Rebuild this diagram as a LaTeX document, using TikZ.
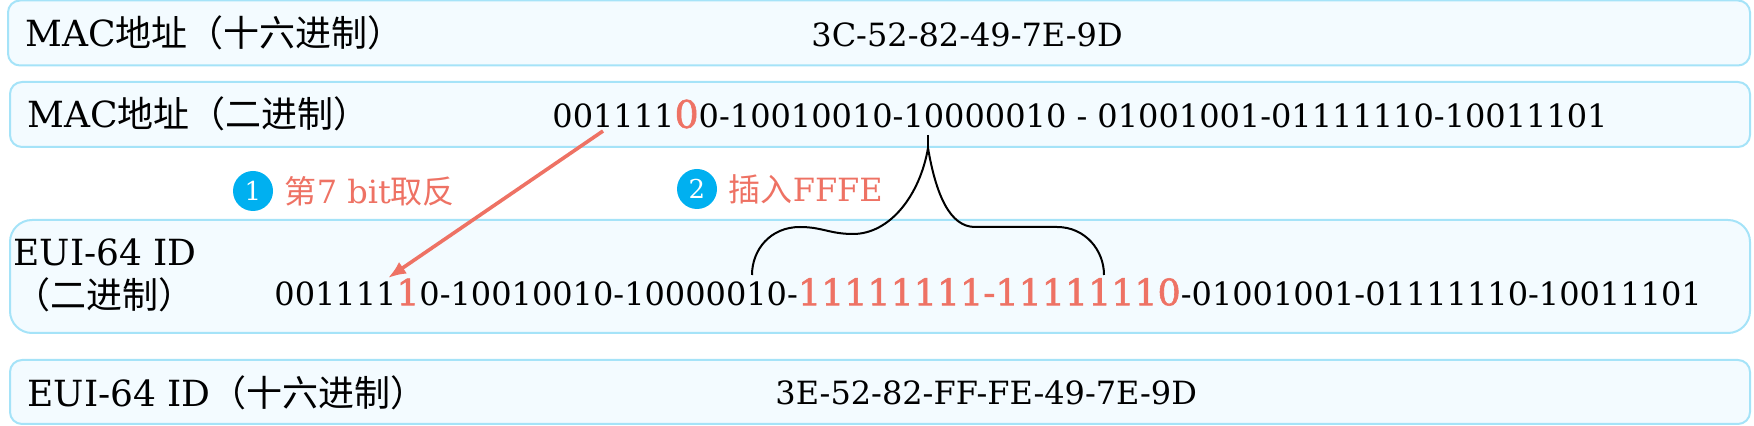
\documentclass[tikz,border=0pt]{standalone}
\usepackage{fontspec}
\usepackage{xcolor}
\usepackage{tikz}
\usetikzlibrary{arrows.meta,positioning}
\setmainfont{DejaVu Serif}
\newfontfamily\cjk{Noto Sans CJK SC}
\newfontfamily\thick[FakeBold=1.5]{DejaVu Serif}
\definecolor{EUIblue}{RGB}{165,227,248}
\definecolor{EUIfill}{RGB}{243,251,255}
\definecolor{EUIred}{RGB}{238,114,100}
\definecolor{EUIbadge}{RGB}{0,176,240}
\tikzstyle{rowbox} = [rectangle, rounded corners=6pt, draw=EUIblue, fill=EUIfill,
                      line width=1pt, inner sep=0pt]
\tikzstyle{Ltxt}   = [anchor=west, inner sep=0pt, font=\fontsize{18}{20}\selectfont]
\tikzstyle{Vtxt}   = [anchor=west, inner sep=0pt, font=\fontsize{16}{20}\selectfont]
\tikzstyle{badge}  = [circle, fill=EUIbadge, text=white, inner sep=0pt,
                      minimum size=20pt, font=\fontsize{13}{15}\selectfont]
\tikzstyle{note}   = [inner sep=0pt, text=EUIred, font=\fontsize{16}{18}\selectfont]
\newcommand{\hl}[2]{\textcolor{EUIred}{\fontsize{#1}{20}\selectfont #2}}

\begin{document}
\begin{tikzpicture}[x=0.5pt, y=-0.5pt, node distance=0.6cm and 5.5pt, >=latex]
  \useasboundingbox (0,0) rectangle (1754,426);

  \node[rowbox, minimum width=871pt, minimum height=32.5pt] (hexbox) at (879,33) {};
  \node[rowbox, minimum width=870pt, minimum height=32.5pt] (binbox) at (880,114.5) {};
  \node[rowbox, rounded corners=11pt, minimum width=870pt, minimum height=56.5pt] (euibox) at (880,276.5) {};
  \node[rowbox, minimum width=870pt, minimum height=32pt] (euihexbox) at (880,392) {};

  \node[Ltxt] (hexlab) at (25,33) {MAC{\cjk 地址（十六进制）}};
  \node[Ltxt] (binlab) at (27,114) {MAC{\cjk 地址（二进制）}};
  \node[Ltxt] (euilab) at (13,252) {EUI-64 ID};
  \node[Ltxt] (euilabb) at (14,295) {\cjk （二进制）};
  \node[Ltxt] (euihexlab) at (27,393) {EUI-64 ID{\cjk （十六进制）}};

  \node[Vtxt] (hexval) at (811,35) {3C-52-82-49-7E-9D};
  \node[Vtxt] (binval) at (552,114) {001111\hl{19}{\thick 0}0-10010010-10000010 - 01001001-01111110-10011101};
  \node[Vtxt] (euival) at (274,292) {001111\hl{18}{\thick 1}0-10010010-10000010-\hl{18.2}{\thick 11111111-11111110}-01001001-01111110-10011101};
  \node[Vtxt] (euihexval) at (775,393) {3E-52-82-FF-FE-49-7E-9D};

  \node[badge] (one) at (253,191) {1};
  \node[note, right=of one] (flip) {{\cjk 第}7 bit{\cjk 取反}};
  \node[badge] (two) at (697,189) {2};
  \node[note, right=of two] (ins) {{\cjk 插入}FFFE};

  \coordinate (flipfrom) at (603,131);
  \coordinate (flipto) at (388,278);
  \coordinate (top) at (928,135);
  \coordinate (fork) at (928,148);
  \coordinate (insl) at (752,275);
  \coordinate (insr) at (1104,275);

  \draw[->, EUIred, line width=1.8pt, >={Latex[length=9pt,width=7pt]}] (flipfrom) -- (flipto);
  \draw[line width=1pt] (top) -- (fork);
  \draw[line width=1pt] (fork) .. controls (920,195) and (890,234) .. (853,234)
    .. controls (830,234) and (822,227) .. (800,227)
    .. controls (770,227) and (752,250) .. (insl);
  \draw[line width=1pt] (fork) .. controls (936,195) and (950,227) .. (975,227)
    -- (1057,227) .. controls (1085,227) and (1104,250) .. (insr);
\end{tikzpicture}
\end{document}
